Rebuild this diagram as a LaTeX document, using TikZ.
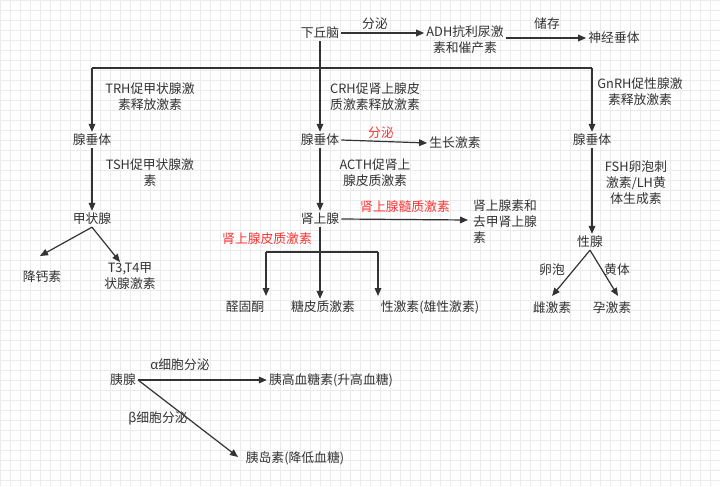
\documentclass[tikz,border=0pt]{standalone}
\usepackage{fontspec}
\setmainfont{Noto Sans CJK SC}
\usetikzlibrary{arrows.meta}
\definecolor{ink}{HTML}{333333}
\definecolor{gridc}{HTML}{EBEBEB}
\definecolor{redt}{HTML}{FF3333}
\begin{document}
\begin{tikzpicture}[x=0.75pt,y=-0.75pt,
  t/.style={font=\fontsize{9.6}{12}\selectfont,text=ink,inner sep=1.5pt,align=center},
  rt/.style={t,text=redt},
  ar/.style={draw=ink,line width=0.9pt,-{Triangle[length=6pt,width=5pt]}},
  ln/.style={draw=ink,line width=0.9pt}]
\useasboundingbox (0,0) rectangle (720,486);
\fill[white] (0,0) rectangle (720,486);
\draw[gridc,line width=0.4pt,step=7.5pt] (0,0) grid (720,486);
% nodes
\node[t] (hyp) at (320,33) {下丘脑};
\node[t] (adh) at (465,40) {ADH抗利尿激\\素和催产素};
\node[t] (neuro) at (614,38) {神经垂体};
\node[t] (pitL) at (92,140) {腺垂体};
\node[t] (pitM) at (320,140) {腺垂体};
\node[t] (pitR) at (592,140) {腺垂体};
\node[t] (gh) at (455,143) {生长激素};
\node[t] (thy) at (92,219) {甲状腺};
\node[t] (calc) at (42,277) {降钙素};
\node[t] (t34) at (130,276) {T3,T4甲\\状腺激素};
\node[t] (adr) at (320,219) {肾上腺};
\node[t,align=left] (epi) at (505,222) {肾上腺素和\\去甲肾上腺\\素};
\node[t] (ald) at (245,307) {醛固酮};
\node[t] (gc) at (323,307) {糖皮质激素};
\node[t] (sex) at (430,307) {性激素(雄性激素)};
\node[t] (gon) at (590,242) {性腺};
\node[t] (est) at (552,308) {雌激素};
\node[t] (pro) at (612,308) {孕激素};
\node[t] (pan) at (123,380) {胰腺};
\node[t] (glu) at (331,380) {胰高血糖素(升高血糖)};
\node[t] (ins) at (295,458) {胰岛素(降低血糖)};
% labels
\node[t] (l1) at (375,24) {分泌};
\node[t] (l2) at (547,24) {储存};
\node[t] (l3) at (150,97) {TRH促甲状腺激\\素释放激素};
\node[t] (l4) at (375,97) {CRH促肾上腺皮\\质激素释放激素};
\node[t] (l5) at (640,92) {GnRH促性腺激\\素释放激素};
\node[rt] (l6) at (381,133) {分泌};
\node[t] (l7) at (150,173) {TSH促甲状腺激\\素};
\node[t] (l8) at (375,173) {ACTH促肾上\\腺皮质激素};
\node[t] (l9) at (636,183) {FSH卵泡刺\\激素/LH黄\\体生成素};
\node[rt] (l10) at (405,207) {肾上腺髓质激素};
\node[rt] (l11) at (267,239) {肾上腺皮质激素};
\node[t] (l12) at (552,270) {卵泡};
\node[t] (l13) at (617,270) {黄体};
\node[t] (l14) at (180,365) {α细胞分泌};
\node[t] (l15) at (158,418) {β细胞分泌};
% connectors
\draw[ar] (hyp.east) -- (adh.west |- hyp.east);
\draw[ar] (adh.east |- neuro.west) -- (neuro.west);
\coordinate (bar) at (320,68);
\draw[ar] (hyp.south) -- (pitM.north);
\draw[ln] (92,68) -- (592,68);
\draw[ar] (92,68) -- (pitL.north);
\draw[ar] (592,68) -- (pitR.north);
\draw[ar] (pitM.east) -- (gh.west);
\draw[ar] (pitL.south) -- (thy.north);
\draw[ar] (thy.south) -- (40,256);
\draw[ar] (thy.south) -- (120,262);
\draw[ar] (pitM.south) -- (adr.north);
\draw[ar] (adr.east) -- (468,220);
\draw[ar] (adr.south) -- (gc.north -| adr.south);
\draw[ln] (266,252) -- (378,252);
\draw[ar] (266,252) -- (266,296);
\draw[ar] (378,252) -- (378,296);
\draw[ar] (pitR.south) -- (gon.north -| pitR.south);
\draw[ar] (gon.south) -- (552,296);
\draw[ar] (gon.south) -- (618,296);
\draw[ar] (pan.east) -- (glu.west);
\draw[ar] (pan.east) -- (238,457);
\end{tikzpicture}
\end{document}
